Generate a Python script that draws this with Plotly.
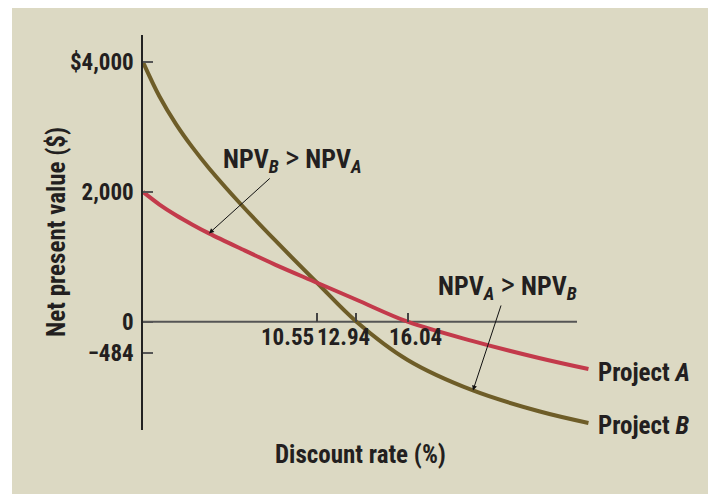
import plotly.graph_objects as go

# discount rate (%) and net present values ($)
rates = [0, 1, 2, 3, 4, 6, 8, 10.55, 12.94, 16.04, 20, 24, 27]
npv_a = [2000, 1805, 1640, 1495, 1360, 1116, 880, 600, 338, 0, -300, -560, -730]
npv_b = [4000, 3470, 3045, 2685, 2365, 1790, 1255, 600, 0, -590, -1060, -1380, -1560]

x_ticks = [10.55, 12.94, 16.04]
x_tick_text = ["10.55", "12.94", "16.04"]
y_ticks = [-484, 0, 2000, 4000]
y_tick_text = ["\u2212484", "0", "2,000", "$4,000"]

# page body adds an 8px margin, so the figure is a bit smaller than the window
OFF = 8
W, H = 716 - OFF, 494 - OFF
L, R, T, B = 143 - OFF, 116, 35 - OFF, 64
pw, ph = W - L - R, H - T - B

def px(x):
    # page pixel -> paper fraction
    return (x - OFF - L) / pw

def py(y):
    return (H - B - (y - OFF)) / ph

FONT = "Roboto Condensed, Liberation Sans, Arial, sans-serif"
INK = "#231F20"
BG = "#DCD9C3"
RED = "#C33A4B"
OLIVE = "#6E5D28"

x_range = [0, 27.7]
y_range = [-1669, 4417]

def f(size):
    return dict(size=size, family=FONT, color=INK, weight="bold")

fig = go.Figure()
fig.add_trace(go.Scatter(x=rates, y=npv_b, mode="lines", line=dict(color=OLIVE, width=4, shape="spline"),
                         hoverinfo="skip"))
fig.add_trace(go.Scatter(x=rates, y=npv_a, mode="lines", line=dict(color=RED, width=4, shape="spline"),
                         hoverinfo="skip"))

# panel background and zero line
fig.add_shape(type="rect", xref="paper", yref="paper", x0=px(12), x1=px(720), y0=py(500), y1=py(4),
              fillcolor=BG, line_width=0, layer="below")
fig.add_shape(type="line", xref="paper", yref="y", x0=0, x1=px(577), y0=0, y1=0,
              line=dict(color="#555555", width=2), layer="below")

zero_pos = (0 - y_range[0]) / (y_range[1] - y_range[0])

fig.update_layout(
    width=W, height=H, margin=dict(l=L, r=R, t=T, b=B),
    paper_bgcolor="white", plot_bgcolor=BG, showlegend=False,
    font=f(22),
    xaxis=dict(range=x_range, anchor="free", position=zero_pos, showgrid=False, zeroline=False,
               showline=False, tickmode="array", tickvals=x_ticks, ticks="inside", ticklen=9,
               tickwidth=1.5, tickcolor="#444444", showticklabels=False),
    yaxis=dict(range=y_range, showgrid=False, zeroline=False, showline=True, linecolor="#222222",
               linewidth=1.5, tickmode="array", tickvals=y_ticks, ticktext=y_tick_text,
               ticks="inside", ticklen=10, tickwidth=2, tickcolor="#555555", ticklabelstandoff=3,
               tickfont=f(23)),
)

# x tick labels, nudged like the original
for v, t, dx in zip(x_ticks, x_tick_text, [-30, -13, 8]):
    fig.add_annotation(x=v, y=0, text=t, showarrow=False, xanchor="center", yanchor="middle",
                       xshift=dx, yshift=-16, font=f(23))

fig.add_annotation(xref="paper", yref="paper", x=px(360), y=py(455), text="Discount rate (%)",
                   xanchor="center", yanchor="middle", showarrow=False, font=f(25))
fig.add_annotation(xref="paper", yref="paper", x=px(56), y=py(232), text="Net present value ($)",
                   xanchor="center", yanchor="middle", textangle=-90, showarrow=False, font=f(25))

# curve labels
fig.add_annotation(x=rates[-1], y=npv_a[-1], text="Project <i>A</i>", showarrow=False, xanchor="left",
                   xshift=8, yshift=-3, font=f(25))
fig.add_annotation(x=rates[-1], y=npv_b[-1], text="Project <i>B</i>", showarrow=False, xanchor="left",
                   xshift=8, yshift=-3, font=f(25))

# comparison callouts
gt = "<span style='font-size:32px;font-weight:normal'>&gt;</span>"
fig.add_annotation(x=rates[4], y=npv_a[4], ax=84, ay=-76,
                   text=f"NPV<sub><i>B</i></sub> {gt} NPV<sub><i>A</i></sub>",
                   showarrow=True, arrowhead=2, arrowsize=1, arrowwidth=1, arrowcolor="#111111",
                   font=f(26))
fig.add_annotation(x=rates[10], y=npv_b[10], ax=35, ay=-106,
                   text=f"NPV<sub><i>A</i></sub> {gt} NPV<sub><i>B</i></sub>",
                   showarrow=True, arrowhead=2, arrowsize=1, arrowwidth=1, arrowcolor="#111111",
                   font=f(26))

fig.write_html("out.html")
